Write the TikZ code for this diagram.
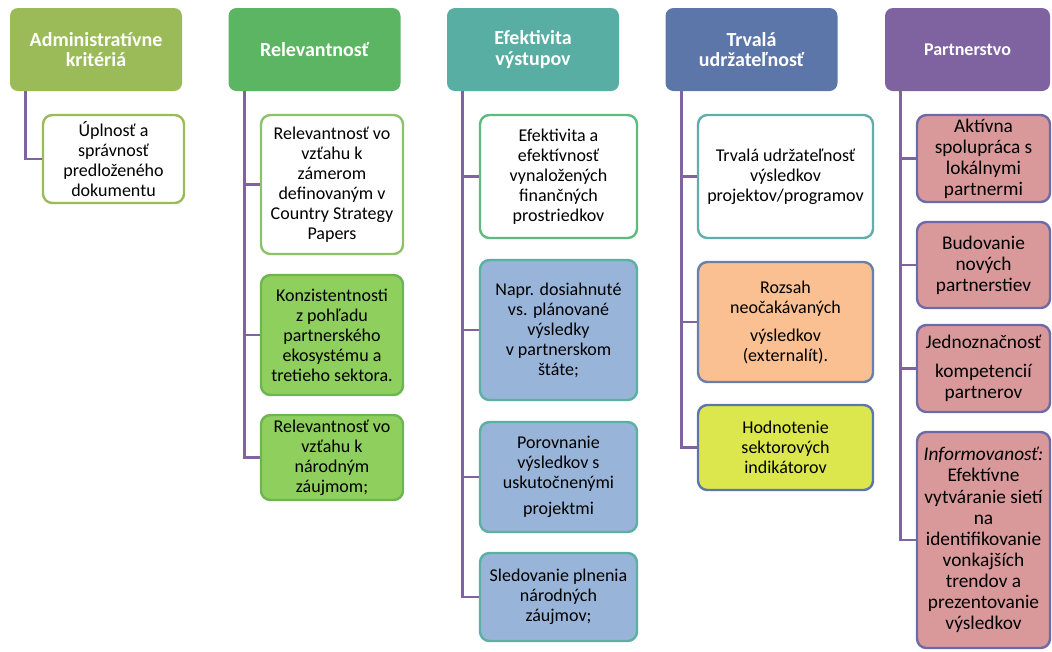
\documentclass[tikz,border=0pt]{standalone}
\usepackage{fontspec}
\setmainfont{Carlito}
\usepackage{xcolor}
\definecolor{admgreen}{HTML}{9BBB59}
\definecolor{relgreen}{HTML}{5CB563}
\definecolor{efekteal}{HTML}{58AEA2}
\definecolor{trvblue}{HTML}{5D76A9}
\definecolor{partpurple}{HTML}{7F63A1}
\definecolor{linkpurple}{HTML}{8064A2}
\definecolor{lightgreen}{HTML}{8DC26B}
\definecolor{fillgreen}{HTML}{8ECF5E}
\definecolor{edgegreen}{HTML}{6DB552}
\definecolor{tealgreen}{HTML}{5FBA7D}
\definecolor{fillblue}{HTML}{98B5D9}
\definecolor{edgeteal}{HTML}{5BB0A1}
\definecolor{trvteal}{HTML}{60AEAA}
\definecolor{fillorange}{HTML}{FAC091}
\definecolor{edgeslate}{HTML}{6A7EAA}
\definecolor{fillyellow}{HTML}{DCE74D}
\definecolor{fillrose}{HTML}{D9999A}
\definecolor{edgeviolet}{HTML}{6E6AA8}

\begin{document}
\begin{tikzpicture}[x=0.75pt,y=-0.75pt]
\tikzstyle{head} = [rounded corners=6pt, inner sep=0pt, minimum width=129pt,
   minimum height=62.25pt, align=center, text=white,
   font=\fontsize{15}{15.5}\selectfont\bfseries]
\tikzstyle{item} = [draw, rounded corners=7pt, line width=1.8pt, inner sep=0pt,
   align=center, font=\fontsize{13.5}{15}\selectfont]
\tikzstyle{partitem} = [item, draw=edgeviolet, fill=fillrose, minimum width=99.75pt,
   font=\fontsize{14.5}{15.8}\selectfont]
\tikzstyle{conn} = [draw=linkpurple, line width=1.9pt]
\useasboundingbox (0,0) rectangle (1052,651);

\node[head, fill=admgreen] at (96,49.5) (hadmin) {Administratívne\\kritériá};
\node[head, fill=relgreen] at (314.5,49.5) (hrel) {Relevantnosť};
\node[head, fill=efekteal] at (533,49.5) (hefek) {Efektivita\\výstupov};
\node[head, fill=trvblue] at (751.5,49.5) (htrv) {Trvalá\\udržateľnosť};
\node[head, fill=partpurple, minimum width=123.75pt, font=\fontsize{13.5}{15}\selectfont\bfseries] at (967.5,49.5) (hpart) {Partnerstvo};

% administrativne
\node[item, draw=admgreen, fill=white, minimum width=105.75pt, minimum height=66pt] at (113.5,159) (adm1) {Úplnosť a\\správnosť\\predloženého\\dokumentu};

% relevantnost
\node[item, draw=lightgreen, fill=white, minimum width=106.5pt, minimum height=104.25pt] at (332,184.5) (rel1) {Relevantnosť vo\\vzťahu k\\zámerom\\definovaným v\\Country Strategy\\Papers};
\node[item, draw=edgegreen, fill=fillgreen, minimum width=106.5pt, minimum height=90pt] at (332,335) (rel2) {Konzistentnosti\\z pohľadu\\partnerského\\ekosystému a\\tretieho sektora.};
\node[item, draw=edgegreen, fill=fillgreen, minimum width=106.5pt, minimum height=63.75pt] at (332,457.5) (rel3) {Relevantnosť vo\\vzťahu k\\národným\\záujmom;};

% efektivita
\node[item, draw=tealgreen, fill=white, minimum width=117.75pt, minimum height=92.25pt] at (558.5,176.5) (efe1) {Efektivita a\\efektívnosť\\vynaložených\\finančných\\prostriedkov};
\node[item, draw=edgeteal, fill=fillblue, minimum width=117.75pt, minimum height=105pt] at (558.5,330) (efe2) {Napr. dosiahnuté\\vs. plánované\\výsledky\\v partnerskom\\štáte;};
\node[item, draw=edgeteal, fill=fillblue, minimum width=117.75pt, minimum height=82.5pt] at (558.5,477) (efe3) {Porovnanie\\výsledkov s\\uskutočnenými\\[5pt]projektmi};
\node[item, draw=edgeteal, fill=fillblue, minimum width=117.75pt, minimum height=66pt] at (558.5,597) (efe4) {Sledovanie plnenia\\národných\\záujmov;};

% trvala udrzatelnost
\node[item, draw=trvteal, fill=white, minimum width=131.25pt, minimum height=92.25pt] at (785.5,176.5) (trv1) {Trvalá udržateľnosť\\výsledkov\\projektov/programov};
\node[item, draw=edgeslate, fill=fillorange, minimum width=131.25pt, minimum height=90pt] at (785.5,322) (trv2) {Rozsah\\neočakávaných\\[6pt]výsledkov\\(externalít).};
\node[item, draw=trvblue, fill=fillyellow, minimum width=131.25pt, minimum height=63.75pt] at (785.5,447.5) (trv3) {Hodnotenie\\sektorových\\indikátorov};

% partnerstvo
\node[partitem, minimum height=65.25pt] at (983.5,158.5) (par1) {Aktívna\\spolupráca s\\lokálnymi\\partnermi};
\node[partitem, minimum height=64.5pt] at (983.5,265) (par2) {Budovanie\\nových\\partnerstiev};
\node[partitem, minimum height=65.25pt] at (983.5,368.5) (par3) {Jednoznačnosť\\[6pt]kompetencií\\partnerov};
\node[partitem, minimum height=162pt] at (983.5,540) (par4) {\textit{Informovanosť:}\\Efektívne\\vytváranie sietí\\na\\identifikovanie\\vonkajších\\trendov a\\prezentovanie\\výsledkov};

\draw[conn] ([xshift=12pt]hadmin.south west) |- (adm1.west);
\draw[conn] ([xshift=12pt]hrel.south west) |- (rel1.west);
\draw[conn] ([xshift=12pt]hrel.south west) |- (rel2.west);
\draw[conn] ([xshift=12pt]hrel.south west) |- (rel3.west);
\draw[conn] ([xshift=12pt]hefek.south west) |- (efe1.west);
\draw[conn] ([xshift=12pt]hefek.south west) |- (efe2.west);
\draw[conn] ([xshift=12pt]hefek.south west) |- (efe3.west);
\draw[conn] ([xshift=12pt]hefek.south west) |- (efe4.west);
\draw[conn] ([xshift=12pt]htrv.south west) |- (trv1.west);
\draw[conn] ([xshift=12pt]htrv.south west) |- (trv2.west);
\draw[conn] ([xshift=12pt]htrv.south west) |- (trv3.west);
\draw[conn] ([xshift=12pt]hpart.south west) |- (par1.west);
\draw[conn] ([xshift=12pt]hpart.south west) |- (par2.west);
\draw[conn] ([xshift=12pt]hpart.south west) |- (par3.west);
\draw[conn] ([xshift=12pt]hpart.south west) |- (par4.west);
\end{tikzpicture}
\end{document}
